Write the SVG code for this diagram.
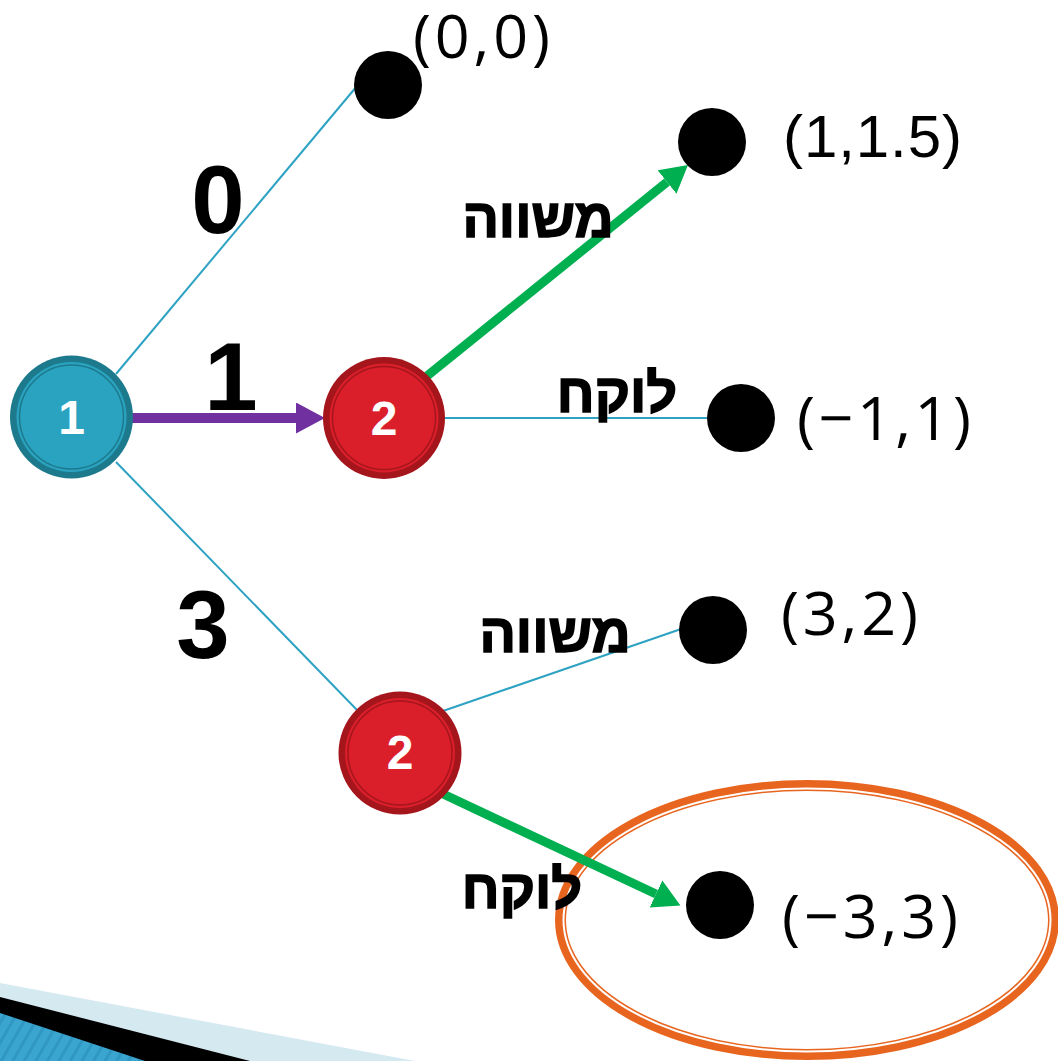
<svg xmlns="http://www.w3.org/2000/svg" width="1058" height="1061" viewBox="0 0 1058 1061">
<style>
.edge{stroke:#2ea2c2;stroke-width:2;fill:none}
.coord{font-family:"Open Sans","Noto Sans",sans-serif;font-size:61px;fill:#000}
.coordA{font-family:"Liberation Sans",Arial,sans-serif;font-size:60px;fill:#000}
.num{font-family:"Liberation Sans",Arial,sans-serif;font-weight:bold;font-size:96px;fill:#000;text-anchor:middle}
.heb{font-family:"Liberation Sans","DejaVu Sans",sans-serif;font-weight:bold;font-size:54px;fill:#000;stroke:#000;stroke-width:1.6;text-anchor:middle;direction:rtl}
.nlabel{font-family:"Liberation Sans",Arial,sans-serif;font-weight:bold;font-size:48px;fill:#fff;text-anchor:middle}
.dot{fill:#000}
</style>
<defs>
<marker id="arrP" markerUnits="userSpaceOnUse" markerWidth="30" markerHeight="32" refX="0" refY="15.5" orient="auto"><path d="M0,0 L29,15.5 L0,31 Z" fill="#7030a0"/></marker>
<marker id="arrG" markerUnits="userSpaceOnUse" markerWidth="28" markerHeight="31" refX="0" refY="15" orient="auto"><path d="M0,0 L27,15 L0,30 Z" fill="#00b050"/></marker>
<pattern id="stripes" patternUnits="userSpaceOnUse" width="10" height="10" patternTransform="rotate(30)"><rect width="10" height="10" fill="#3aa6cf"/><rect width="3" height="10" fill="#2f97c2"/></pattern>
</defs>
<g id="decor">
<polygon points="0,983 415,1061 0,1061" fill="#d5e9f1"/>
<polygon points="0,997 250,1061 0,1061" fill="#000"/>
<polygon points="0,1013 145,1061 0,1061" fill="url(#stripes)"/>
</g>
<g id="highlight">
<ellipse cx="807" cy="920" rx="246.5" ry="134.5" fill="none" stroke="#e8651f" stroke-width="11"/>
<ellipse cx="807" cy="920" rx="243.5" ry="131.5" fill="none" stroke="#fff" stroke-width="2"/>
</g>
<g id="connectors">
<line class="edge" x1="116" y1="374" x2="357" y2="86"/>
<line class="edge" x1="116" y1="462" x2="357" y2="710"/>
<line class="edge" x1="443" y1="418" x2="710" y2="418"/>
<line class="edge" x1="440" y1="712" x2="684" y2="628"/>
<line x1="130" y1="418" x2="296" y2="418" stroke="#7030a0" stroke-width="10" marker-end="url(#arrP)"/>
<line x1="427" y1="376" x2="667" y2="182" stroke="#00b050" stroke-width="9" marker-end="url(#arrG)"/>
<line x1="441" y1="793" x2="656" y2="894" stroke="#00b050" stroke-width="9" marker-end="url(#arrG)"/>
</g>
<g id="node-1">
<circle cx="71.5" cy="417" r="61.5" fill="#1d7a8c"/>
<circle cx="71.5" cy="417" r="55" fill="#2aa3c1"/>
<circle cx="71.5" cy="417" r="52" fill="none" stroke="#1d7a8c" stroke-width="1.5"/>
<text class="nlabel" x="71.5" y="434">1</text>
</g>
<g id="node-2a">
<circle cx="384" cy="418" r="61" fill="#a5151c"/>
<circle cx="384" cy="418" r="54.5" fill="#da1f2b"/>
<circle cx="384" cy="418" r="51.5" fill="none" stroke="#a5151c" stroke-width="1.5"/>
<text class="nlabel" x="384" y="435">2</text>
</g>
<g id="node-2b">
<circle cx="400" cy="753" r="61.5" fill="#a5151c"/>
<circle cx="400" cy="753" r="55" fill="#da1f2b"/>
<circle cx="400" cy="753" r="52" fill="none" stroke="#a5151c" stroke-width="1.5"/>
<text class="nlabel" x="400" y="769">2</text>
</g>
<g id="leaf-00"><circle class="dot" cx="388" cy="85" r="34"/><text class="coord" x="413" y="58" textLength="137" lengthAdjust="spacing">(0,0)</text></g>
<g id="leaf-1-15"><circle class="dot" cx="712" cy="142" r="34"/><text class="coordA" x="783" y="157" textLength="179" lengthAdjust="spacing">(1,1.5)</text></g>
<g id="leaf-m1-1"><circle class="dot" cx="741" cy="418" r="34"/><text class="coord" x="797" y="440" textLength="174" lengthAdjust="spacing">(−1,1)</text></g>
<g id="leaf-3-2"><circle class="dot" cx="713" cy="630" r="34"/><text class="coord" x="781" y="635" textLength="137" lengthAdjust="spacing">(3,2)</text></g>
<g id="leaf-m3-3"><circle class="dot" cx="720" cy="905" r="34"/><text class="coord" x="782" y="938" textLength="176" lengthAdjust="spacing">(−3,3)</text></g>
<g id="labels">
<text class="num" x="218" y="233">0</text>
<text class="num" x="231" y="410">1</text>
<text class="num" x="203" y="658">3</text>
<text class="heb" x="538" y="237">משווה</text>
<text class="heb" x="617" y="412">לוקח</text>
<text class="heb" x="555" y="652">משווה</text>
<text class="heb" x="522" y="908">לוקח</text>
</g>
</svg>
